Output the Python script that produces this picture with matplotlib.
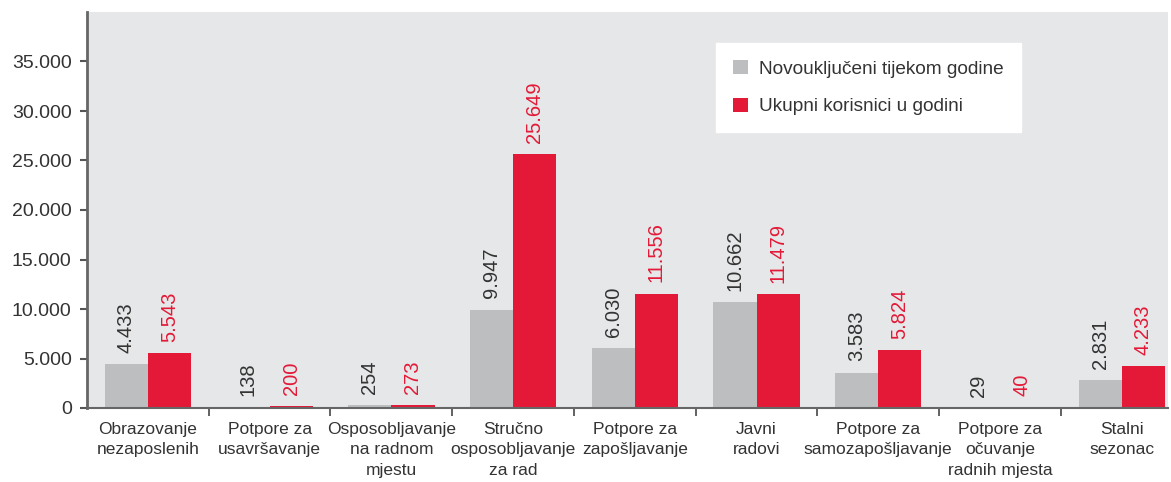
import numpy as np
import matplotlib
matplotlib.use("Agg")
import matplotlib.pyplot as plt
from matplotlib.ticker import FuncFormatter

plt.rcParams['font.family'] = ['Liberation Sans', 'DejaVu Sans']

categories = ["Obrazovanje\nnezaposlenih", "Potpore za\nusavršavanje",
              "Osposobljavanje\nna radnom\nmjestu", "Stručno\nosposobljavanje\nza rad",
              "Potpore za\nzapošljavanje", "Javni\nradovi",
              "Potpore za\nsamozapošljavanje", "Potpore za\nočuvanje\nradnih mjesta",
              "Stalni\nsezonac"]
novi = [4433, 138, 254, 9947, 6030, 10662, 3583, 29, 2831]
ukupno = [5543, 200, 273, 25649, 11556, 11479, 5824, 40, 4233]
series_names = ["Novouključeni tijekom godine", "Ukupni korisnici u godini"]

gray = "#bcbec0"
red = "#e31937"
txt = "#333333"

def fmt(v):
    return f"{int(v):,}".replace(",", ".")

fig = plt.figure(figsize=(11.71, 4.82), dpi=100)
ax = fig.add_axes([87/1171, 1 - 408/482, (1168 - 87)/1171, (408 - 12)/482])
ax.set_facecolor("#e6e7e8")

x = np.arange(len(categories))
w = 0.355
b1 = ax.bar(x - w/2, novi, w, color=gray, label=series_names[0])
b2 = ax.bar(x + w/2, ukupno, w, color=red, label=series_names[1])

for rect, v in zip(b1, novi):
    ax.annotate(fmt(v), (rect.get_x() + rect.get_width()/2, rect.get_height()),
                xytext=(0, 8), textcoords="offset points", rotation=90,
                ha="center", va="bottom", fontsize=14.5, color=txt)
for rect, v in zip(b2, ukupno):
    ax.annotate(fmt(v), (rect.get_x() + rect.get_width()/2, rect.get_height()),
                xytext=(0, 8), textcoords="offset points", rotation=90,
                ha="center", va="bottom", fontsize=14.5, color=red)

ax.set_xlim(-0.5, 8.38)
ax.set_ylim(0, 40000)
ax.set_yticks(np.arange(0, 35001, 5000))
ax.yaxis.set_major_formatter(FuncFormatter(lambda v, p: fmt(v)))
ax.tick_params(axis="y", labelsize=14, labelcolor=txt, color="#555555",
               length=5, width=1.5, pad=6)

# category labels centred, ticks at group boundaries
ax.set_xticks(np.arange(0.5, 8.5, 1))
ax.set_xticklabels([])
ax.set_xticks(x, minor=True)
ax.set_xticklabels(categories, minor=True, fontsize=12.5, color=txt, linespacing=1.45)
ax.tick_params(axis="x", which="minor", length=0, pad=10)
ax.tick_params(axis="x", which="major", length=6, width=1.3, color="#555555", direction="out")

for s in ["top", "right"]:
    ax.spines[s].set_visible(False)
ax.spines["left"].set_color("#666666")
ax.spines["left"].set_linewidth(2)
ax.spines["bottom"].set_color("#666666")
ax.spines["bottom"].set_linewidth(1.5)

leg = ax.legend(loc="upper left", bbox_to_anchor=(0.582, 0.922), borderaxespad=0,
                fontsize=13.7, frameon=True, fancybox=False, edgecolor="white",
                facecolor="white", framealpha=1, handlelength=0.75, handleheight=0.75,
                handletextpad=0.6, labelspacing=1.05, borderpad=0.9)
for t in leg.get_texts():
    t.set_color(txt)

fig.savefig("out.png", dpi=100)
